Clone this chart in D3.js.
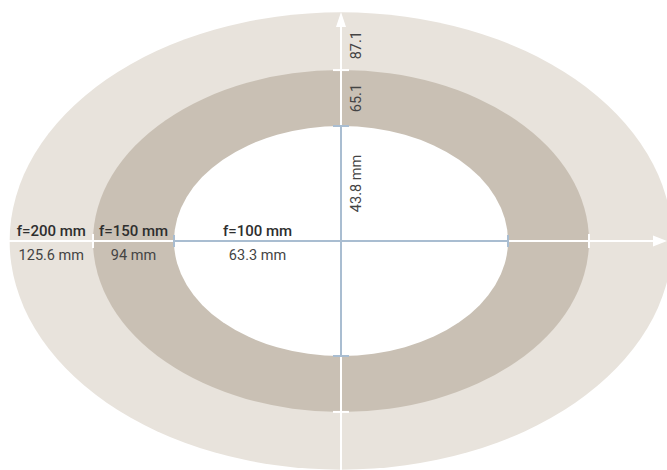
<!DOCTYPE html>
<html><head><meta charset="utf-8">
<script src="https://cdn.jsdelivr.net/npm/d3@7"></script>
<style>
html,body{margin:0;padding:0;background:#fff;}
svg{display:block;}
text{font-family:"Liberation Sans Narrow","Roboto","Liberation Sans",sans-serif;fill:#333;}
</style></head>
<body>
<svg id="c" width="667" height="470"></svg>
<script>
const focalLengths = ["f=200 mm", "f=150 mm", "f=100 mm"];
const halfWidths = [125.6, 94, 63.3];
const halfHeights = [87.1, 65.1, 43.8];
const widthLabels = ["125.6 mm", "94 mm", "63.3 mm"];
const heightLabels = ["87.1", "65.1", "43.8 mm"];
const fills = ["#e8e3dc", "#c9c0b4", "#ffffff"];

const svg = d3.select("#c");
const cx = 341, cy = 241;
const sx = d3.scaleLinear().domain([0, 63.3]).range([0, 167]);
const sy = d3.scaleLinear().domain([0, 43.8]).range([0, 115]);

const g = svg.append("g");
g.selectAll("ellipse").data(halfWidths).join("ellipse")
  .attr("cx", cx).attr("cy", cy)
  .attr("rx", d => sx(d)).attr("ry", (d, i) => sy(halfHeights[i]))
  .attr("fill", (d, i) => fills[i]);

const white = "#ffffff", blue = "#a9bdd1";
const inW = sx(halfWidths[2]), inH = sy(halfHeights[2]);
const midW = sx(halfWidths[1]), midH = sy(halfHeights[1]);
const outW = sx(halfWidths[0]), outH = sy(halfHeights[0]);

function line(x1, y1, x2, y2, c, w) {
  g.append("line").attr("x1", x1).attr("y1", y1).attr("x2", x2).attr("y2", y2)
    .attr("stroke", c).attr("stroke-width", w || 2);
}
// horizontal axis
line(0, cy, cx - inW, cy, white);
line(cx + inW, cy, 655, cy, white);
line(cx - inW, cy, cx + inW, cy, blue);
g.append("path").attr("d", `M667,${cy} L653,${cy-5.5} L653,${cy+5.5} Z`).attr("fill", white);
// vertical axis
line(cx, 470, cx, cy + inH, white);
line(cx, cy - inH, cx, 24, white);
line(cx, cy - inH, cx, cy + inH, blue);
g.append("path").attr("d", `M${cx},12 L${cx-5},27 L${cx+5},27 Z`).attr("fill", white);

// ticks
[-1, 1].forEach(s => {
  line(cx + s * inW, cy - 6, cx + s * inW, cy + 6, blue);
  line(cx + s * midW, cy - 7, cx + s * midW, cy + 7, white);
  line(cx - 8, cy + s * inH, cx + 8, cy + s * inH, blue);
  line(cx - 8, cy + s * midH, cx + 8, cy + s * midH, white);
});

// horizontal labels
const edges = [outW, midW, inW, 0];
focalLengths.forEach((f, i) => {
  const xm = cx - (edges[i] + edges[i + 1]) / 2;
  g.append("text").attr("x", xm).attr("y", cy - 5).attr("text-anchor", "middle")
    .attr("font-size", 15).attr("font-weight", 500).style("fill", "#2e2e2e").text(f);
  g.append("text").attr("x", xm).attr("y", cy + 19).attr("text-anchor", "middle")
    .attr("font-size", 14.5).style("fill", "#444").text(widthLabels[i]);
});

// vertical labels
const vEdges = [outH, midH, inH, 0];
heightLabels.forEach((t, i) => {
  let ym = cy - (vEdges[i] + vEdges[i + 1]) / 2;
  if (i === 0) ym += 4;
  g.append("text").attr("transform", `translate(${cx + 16},${ym}) rotate(-90)`)
    .attr("text-anchor", "middle").attr("dominant-baseline", "middle")
    .attr("font-size", 14.5).style("fill", "#444").text(t);
});
</script>
</body></html>
